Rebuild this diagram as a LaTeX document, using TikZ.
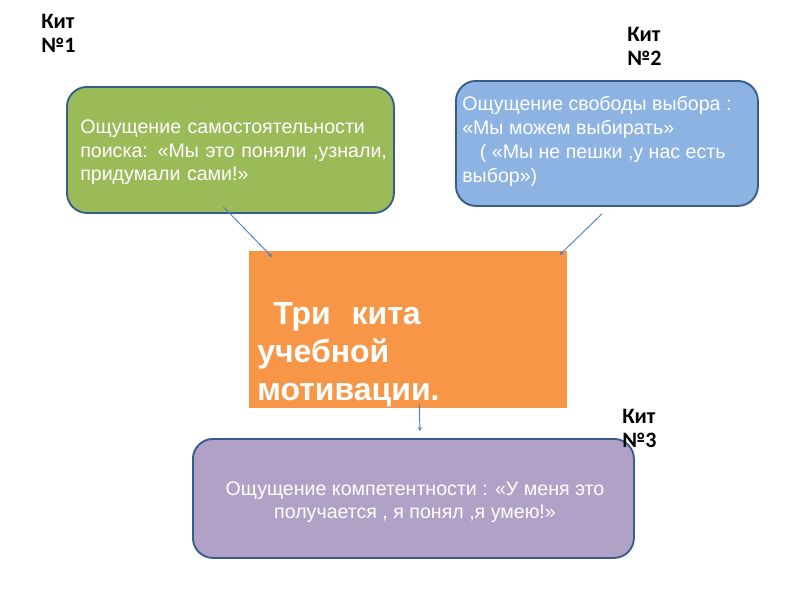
\documentclass[tikz,border=0pt]{standalone}
\usepackage{fontspec}
\setmainfont{Liberation Sans}
\newfontfamily\calfont{Carlito}
\usetikzlibrary{calc,arrows.meta}
\definecolor{bord}{HTML}{385D8A}
\definecolor{gfill}{HTML}{9BBB59}
\definecolor{bfill}{HTML}{8DB3E2}
\definecolor{ofill}{HTML}{F79646}
\definecolor{pfill}{HTML}{B2A1C7}
\definecolor{lnk}{HTML}{4F81BD}
\tikzset{
  rbox/.style={draw=bord, line width=1.4pt, rounded corners=15pt, anchor=north west, inner sep=0pt, text=white},
  kit/.style={anchor=north west, inner sep=0pt, align=left, font=\calfont\bfseries\fontsize{16.5}{18}\selectfont},
  conn/.style={draw=lnk, line width=0.7pt, -{Stealth[length=3pt,width=3pt]}},
  btext/.style={font=\fontsize{14.7}{17.6}\selectfont, align=left}
}
\begin{document}
\begin{tikzpicture}[x=0.75pt,y=-0.75pt]
\useasboundingbox (0,0) rectangle (800,600);
% boxes
\node[rbox, fill=gfill, minimum width=327*0.75pt, minimum height=126*0.75pt] (green) at (66,86) {};
\node[btext, text=white, anchor=north west, text width=310*0.75pt, inner sep=0pt] (gtext) at (80,120)
  {Ощущение самостоятельности поиска: «Мы это поняли ,узнали, придумали сами!»};
\node[rbox, fill=bfill, minimum width=302*0.75pt, minimum height=125*0.75pt] (blue) at (455,80) {};
\node[anchor=north west, text=white, align=left, font=\fontsize{14.7}{18}\selectfont, inner sep=0pt] (btxt) at (462,96)
  {Ощущение свободы выбора :\\«Мы можем выбирать»\\\hspace*{0.9em}( «Мы не пешки ,у нас есть\\выбор»)};
\node[fill=ofill, anchor=north west, minimum width=318*0.75pt, minimum height=157*0.75pt, inner sep=0pt] (orange) at (249,251) {};
\node[anchor=north west, inner sep=0pt, text=white, align=left, font=\bfseries\fontsize{24}{28.5}\selectfont] (otext) at (257,302)
  {\hspace*{0.5em}Три\hspace*{0.65em}кита\\учебной\\мотивации.};
\node[rbox, fill=pfill, minimum width=441*0.75pt, minimum height=119*0.75pt] (purple) at (192,438) {};
\node[text=white, align=center, anchor=center, inner sep=0pt, font=\fontsize{14.7}{17.3}\selectfont] (ptext) at (415,502)
  {Ощущение компетентности : «У меня это\\получается , я понял ,я умею!»};
% labels
\node[kit] (k1) at (41,14) {Кит\\№1};
\node[kit] (k2) at (627,27) {Кит\\№2};
\node[kit] (k3) at (622,409) {Кит\\№3};
% connectors
\draw[conn] ($(green.south)+(-7,-7)$) -- ($(orange.north west)+(23,6)$);
\draw[conn] ($(blue.south)+(-5,7)$) -- ($(orange.north east)+(-8,4)$);
\draw[conn] ($(orange.south)+(11,-4)$) -- ($(purple.north)+(6.5,-7)$);
\end{tikzpicture}
\end{document}
